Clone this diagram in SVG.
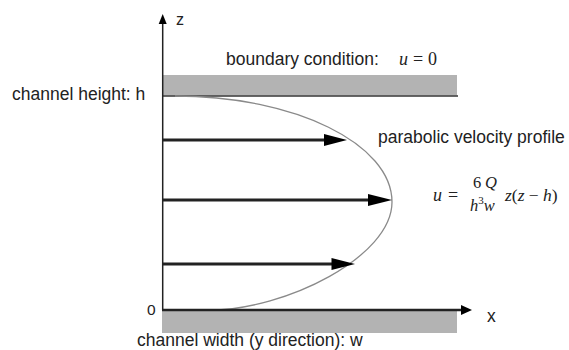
<svg xmlns="http://www.w3.org/2000/svg" width="569" height="350" viewBox="0 0 569 350">
<style>
.lbl{font-family:"Liberation Sans",Arial,sans-serif;font-size:17.5px;fill:#222}
.ax{font-family:"Liberation Sans",Arial,sans-serif;fill:#222}
.math{font-family:"Liberation Serif","Times New Roman",serif;fill:#222}
.it{font-style:italic}
.wall{fill:#b3b3b3;stroke:none}
.flow{stroke:#222;stroke-width:3;fill:none}
.head{fill:#000}
</style>
<rect width="569" height="350" fill="#fff"/>
<g id="top-wall">
  <rect class="wall" x="163" y="75" width="294" height="20.5"/>
  <line x1="162" y1="96" x2="458" y2="96" stroke="#333" stroke-width="1.5"/>
</g>
<g id="bottom-wall">
  <rect class="wall" x="162" y="310" width="295" height="23"/>
</g>
<g id="profile">
  <path d="M175,96 C295,96 392,144 392,202 C392,257 285,310 210,310" fill="none" stroke="#8a8a8a" stroke-width="1.3"/>
</g>
<g id="connectors">
  <line x1="162.7" y1="310" x2="162.7" y2="22" stroke="#222" stroke-width="1.5"/>
  <polygon class="head" points="162.7,14 158.7,24 166.7,24"/>
  <line x1="162" y1="310" x2="463" y2="310" stroke="#222" stroke-width="2.5"/>
  <polygon class="head" points="472,310 461,305 461,315"/>
  <line class="flow" x1="162" y1="140" x2="326" y2="140"/>
  <polygon class="head" points="347,140 324,134 324,146"/>
  <line class="flow" x1="162" y1="200" x2="370" y2="200"/>
  <polygon class="head" points="392,200 368,194 368,206"/>
  <line class="flow" x1="162" y1="264" x2="333" y2="264"/>
  <polygon class="head" points="355,264 331.5,258 331.5,270"/>
</g>
<g id="axis-labels">
  <text class="ax" x="176" y="25" font-size="16">z</text>
  <text class="ax" x="487" y="322" font-size="17.5">x</text>
  <text class="ax" x="147" y="315" font-size="15.5">0</text>
</g>
<g id="label-boundary">
  <text class="lbl" x="226" y="65">boundary condition:</text>
  <text class="math" x="399" y="65" font-size="18"><tspan class="it">u</tspan><tspan x="413">=</tspan><tspan x="428">0</tspan></text>
</g>
<g id="label-height">
  <text class="lbl" x="12" y="99.5">channel height: h</text>
</g>
<g id="label-profile">
  <text class="lbl" x="378" y="143">parabolic velocity profile</text>
</g>
<g id="label-formula">
  <text class="math it" x="433" y="201" font-size="18">u</text>
  <text class="math" x="448" y="201" font-size="18">=</text>
  <text class="math" x="473" y="188" font-size="16.5">6<tspan class="it" x="485">Q</tspan></text>
  <text class="math it" x="470" y="211" font-size="16.5">h<tspan font-style="normal" font-size="11" dy="-7">3</tspan><tspan dy="7">w</tspan></text>
  <text class="math" x="505" y="201" font-size="17.5"><tspan class="it">z</tspan>(<tspan class="it">z</tspan> − <tspan class="it">h</tspan>)</text>
</g>
<g id="label-width">
  <text class="lbl" x="137" y="346">channel width (y direction): w</text>
</g>
</svg>
